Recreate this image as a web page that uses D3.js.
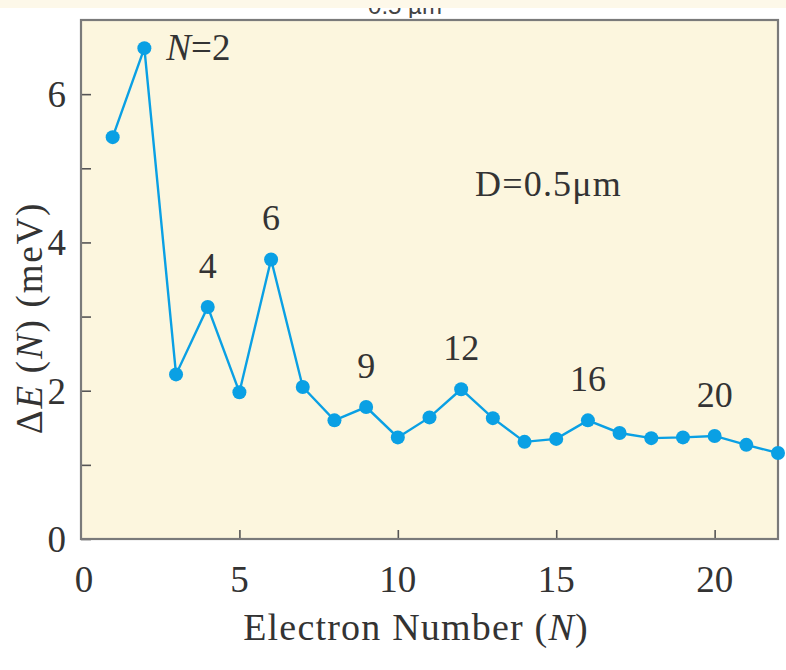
<!DOCTYPE html>
<html>
<head>
<meta charset="utf-8">
<script src="https://cdn.jsdelivr.net/npm/d3@7"></script>
<style>
  html, body { margin: 0; padding: 0; background: #ffffff; }
  svg { display: block; }
</style>
</head>
<body>
<svg id="chart" width="786" height="670"></svg>
<script>
// Addition energy ΔE(N) versus electron number N for a dot of diameter 0.5 µm
const electronNumbers = d3.range(1, 23);
const deltaE = [5.42, 6.62, 2.22, 3.13, 1.98, 3.77, 2.05, 1.60, 1.78, 1.37, 1.64,
                2.02, 1.63, 1.31, 1.35, 1.60, 1.43, 1.36, 1.37, 1.39, 1.27, 1.16];
const xTicks = [0, 5, 10, 15, 20];
const yTicks = [0, 1, 2, 3, 4, 5, 6];
const yTickLabels = [0, 2, 4, 6];
const peakLabels = [4, 6, 9, 12, 16, 20];

const svg = d3.select("#chart");
const W = 786, H = 670;
const plotLeft = 81, plotTop = 20, plotRight = 778, plotBottom = 539;

const x = d3.scaleLinear().domain([0, 22]).range([plotLeft, plotRight]);
const y = d3.scaleLinear().domain([0, 7]).range([plotBottom, plotTop]);

const serif = "'Liberation Serif', 'DejaVu Serif', serif";
const ink = "#333";
const blue = "#0aa0e4";

// header strip
svg.append("rect").attr("x", 0).attr("y", 0).attr("width", W).attr("height", 8)
  .attr("fill", "#fdf8e9");

// caption of the panel above, only its lower edge shows
const capClip = svg.append("clipPath").attr("id", "capclip");
capClip.append("rect").attr("x", 0).attr("y", 8).attr("width", W).attr("height", 10);
svg.append("text").attr("clip-path", "url(#capclip)")
  .attr("x", 405).attr("y", 14).attr("text-anchor", "middle")
  .attr("font-family", "'Liberation Sans', Arial, sans-serif").attr("font-size", 24)
  .attr("fill", "#444").text("0.5 µm");

// plot background
svg.append("rect")
  .attr("x", plotLeft).attr("y", plotTop)
  .attr("width", plotRight - plotLeft).attr("height", plotBottom - plotTop)
  .attr("fill", "#fcf6de");

// y axis ticks (inward)
const gy = svg.append("g").attr("transform", `translate(${plotLeft},0)`)
  .call(d3.axisRight(y).tickValues(yTicks).tickSize(10).tickFormat(""));
gy.select(".domain").remove();
gy.selectAll(".tick line").attr("stroke", "#555").attr("stroke-width", 1.6);

// x axis ticks (inward)
const gx = svg.append("g").attr("transform", `translate(0,${plotBottom})`)
  .call(d3.axisTop(x).tickValues(xTicks.filter(v => v > 0)).tickSize(9).tickFormat(""));
gx.select(".domain").remove();
gx.selectAll(".tick line").attr("stroke", "#555").attr("stroke-width", 1.6);

// frame
svg.append("rect")
  .attr("x", plotLeft).attr("y", plotTop)
  .attr("width", plotRight - plotLeft).attr("height", plotBottom - plotTop)
  .attr("fill", "none").attr("stroke", "#7a7a7a").attr("stroke-width", 2.2);

// tick labels
svg.append("g").selectAll("text").data(yTickLabels).join("text")
  .attr("x", 66).attr("y", d => y(d) + 13)
  .attr("text-anchor", "end")
  .attr("font-family", serif).attr("font-size", 37).attr("fill", ink)
  .text(d => d);

svg.append("g").selectAll("text").data(xTicks).join("text")
  .attr("x", d => x(d) + (d === 0 ? 3 : 0)).attr("y", plotBottom + 53)
  .attr("text-anchor", "middle")
  .attr("font-family", serif).attr("font-size", 37).attr("fill", ink)
  .text(d => d);

// axis titles
const xt = svg.append("text")
  .attr("x", 416).attr("y", 640).attr("text-anchor", "middle")
  .attr("font-family", serif).attr("font-size", 38).attr("letter-spacing", 1.2)
  .attr("fill", ink);
xt.append("tspan").text("Electron Number (");
xt.append("tspan").attr("font-style", "italic").text("N");
xt.append("tspan").text(")");

const yt = svg.append("text")
  .attr("transform", "translate(42,318) rotate(-90)")
  .attr("text-anchor", "middle")
  .attr("font-family", serif).attr("font-size", 37).attr("letter-spacing", 1.8)
  .attr("fill", ink);
yt.append("tspan").text("Δ");
yt.append("tspan").attr("font-style", "italic").text("E");
yt.append("tspan").text(" (");
yt.append("tspan").attr("font-style", "italic").text("N");
yt.append("tspan").text(") (meV)");

// data line and markers
const pts = electronNumbers.map((n, i) => ({ n, v: deltaE[i] }));
svg.append("path").datum(pts)
  .attr("fill", "none").attr("stroke", blue).attr("stroke-width", 2.4)
  .attr("d", d3.line().x(d => x(d.n)).y(d => y(d.v)));

svg.append("g").selectAll("circle").data(pts).join("circle")
  .attr("cx", d => x(d.n)).attr("cy", d => y(d.v)).attr("r", 7)
  .attr("fill", blue);

// peak labels above the marked electron numbers
svg.append("g").selectAll("text").data(peakLabels).join("text")
  .attr("x", n => x(n))
  .attr("y", n => y(deltaE[n - 1]) - 29)
  .attr("text-anchor", "middle")
  .attr("font-family", serif).attr("font-size", 36).attr("fill", ink)
  .text(n => n);

// N=2 label
const n2 = svg.append("text")
  .attr("x", x(2) + 22).attr("y", y(deltaE[1]) + 12)
  .attr("font-family", serif).attr("font-size", 37).attr("fill", ink);
n2.append("tspan").attr("font-style", "italic").text("N");
n2.append("tspan").text("=2");

// dot diameter note
svg.append("text")
  .attr("x", 475).attr("y", 196)
  .attr("font-family", serif).attr("font-size", 36).attr("letter-spacing", 1.2)
  .attr("fill", ink)
  .text("D=0.5μm");
</script>
</body>
</html>
